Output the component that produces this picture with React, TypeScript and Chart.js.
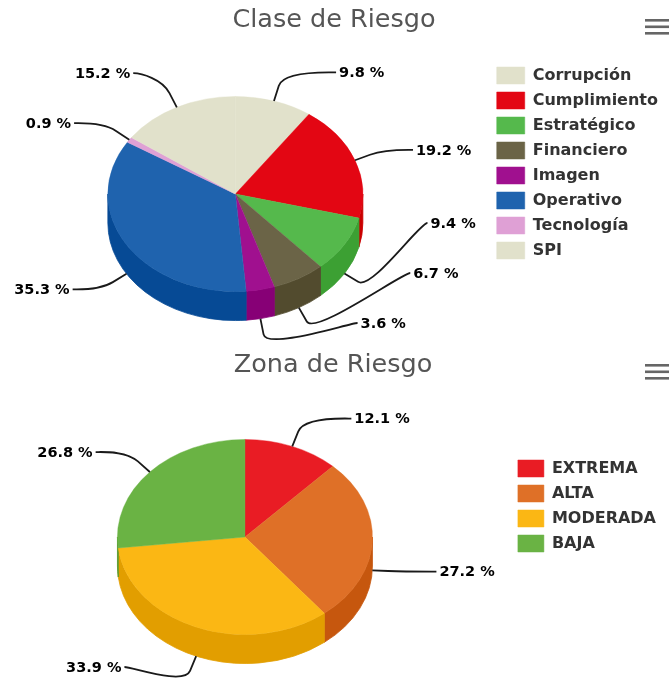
import React, { useEffect, useRef } from 'react';
import { Chart, ArcElement, PieController, Legend, Title } from 'chart.js';

Chart.register(ArcElement, PieController, Legend, Title);

// ---------- data ----------
const claseTitle = 'Clase de Riesgo';
const claseLabels = ['Corrupción', 'Cumplimiento', 'Estratégico', 'Financiero', 'Imagen', 'Operativo', 'Tecnología', 'SPI'];
const claseValues = [9.8, 19.2, 9.4, 6.7, 3.6, 35.3, 0.9, 15.2];
const claseColors = ['#e1e1cb', '#e30613', '#55b94c', '#6b6447', '#a0108f', '#1f63ae', '#dfa0d5', '#e1e1cb'];

const zonaTitle = 'Zona de Riesgo';
const zonaLabels = ['EXTREMA', 'ALTA', 'MODERADA', 'BAJA'];
const zonaValues = [12.1, 27.2, 33.9, 26.8];
const zonaColors = ['#e91c24', '#df7027', '#fbb714', '#6ab344'];

// ---------- helpers ----------
function darken(hex: string, amt = 25): string {
  const n = parseInt(hex.slice(1), 16);
  const r = Math.max(0, ((n >> 16) & 255) - amt);
  const g = Math.max(0, ((n >> 8) & 255) - amt);
  const b = Math.max(0, (n & 255) - amt);
  return `rgb(${r},${g},${b})`;
}

const pie3d = {
  id: 'pie3d',
  beforeDatasetsDraw(chart: any, _args: any, opts: any) {
    const meta = chart.getDatasetMeta(0);
    const arcs = meta.data;
    if (!arcs.length) return;
    const cx0 = arcs[0].x;
    const cy = arcs[0].y;
    const cx = cx0 + opts.shiftX;
    const r = arcs[0].outerRadius;
    const k = opts.tilt;
    const D = opts.depth;
    const colors = chart.data.datasets[0].backgroundColor;
    const ctx = chart.ctx;
    ctx.save();
    arcs.forEach((arc: any, i: number) => {
      const s = arc.startAngle;
      const e = arc.endAngle;
      for (const base of [0, 2 * Math.PI]) {
        const a = Math.max(s, base);
        const b = Math.min(e, base + Math.PI);
        if (b > a) {
          const col = darken(colors[i]);
          ctx.beginPath();
          ctx.ellipse(cx, cy, r, r * k, 0, a, b, false);
          ctx.ellipse(cx, cy + D, r, r * k, 0, b, a, true);
          ctx.closePath();
          ctx.fillStyle = col;
          ctx.strokeStyle = col;
          ctx.lineWidth = 0.8;
          ctx.fill();
          ctx.stroke();
        }
      }
    });
    ctx.translate(cx, cy);
    ctx.scale(1, k);
    ctx.translate(-cx0, -cy);
  },
  afterDatasetsDraw(chart: any, _args: any, opts: any) {
    const ctx = chart.ctx;
    ctx.restore();
    const meta = chart.getDatasetMeta(0);
    const arcs = meta.data;
    if (!arcs.length) return;
    const values = chart.data.datasets[0].data;
    const cx = arcs[0].x + opts.shiftX;
    const cy = arcs[0].y;
    const r = arcs[0].outerRadius;
    const k = opts.tilt;
    const D = opts.depth;
    const dist = 30;
    const items = arcs.map((arc: any, i: number) => {
      const t = (arc.startAngle + arc.endAngle) / 2;
      const c = Math.cos(t);
      const s = Math.sin(t);
      const lx = cx + r * c;
      const ly = cy + k * r * s + (s > 0 ? D : 0);
      const ny = cy + (k * r + dist) * s + (s > 0 ? D : 0);
      return { i, c, s, lx, ly, ny, y: ny, right: c >= 0 };
    });
    const yMax = chart.chartArea.bottom - 3;
    const yMin = 12;
    for (const side of [true, false]) {
      const h = items.filter((p: any) => p.right === side).sort((a: any, b: any) => a.ny - b.ny);
      h.forEach((p: any) => { p.y = Math.min(yMax, Math.max(yMin, p.ny)); });
      for (let j = h.length - 2; j >= 0; j--) h[j].y = Math.min(h[j].y, h[j + 1].y - 50);
      for (let j = 1; j < h.length; j++) h[j].y = Math.max(h[j].y, h[j - 1].y + 20);
    }
    const ax = cx;
    const ay = cy + 20;
    const Rx = r + 63;
    const RyUp = r + 38;
    const RyDown = r + 13;
    ctx.save();
    ctx.font = 'bold 14.5px "DejaVu Sans"';
    ctx.textBaseline = 'middle';
    items.forEach((p: any) => {
      const q = (p.y - ay) / (p.y < ay ? RyUp : RyDown);
      const dx = Rx * Math.sqrt(Math.max(0, 1 - q * q));
      const sg = p.right ? 1 : -1;
      const X = ax + sg * dx;
      const bx = p.lx + 16 * p.c;
      const by = p.ly + 16 * p.s;
      ctx.beginPath();
      ctx.moveTo(X + sg * 2, p.y);
      ctx.bezierCurveTo(X - sg * 6, p.y, 2 * bx - p.lx, 2 * by - p.ly, bx, by);
      ctx.lineTo(p.lx, p.ly);
      ctx.strokeStyle = '#1a1a1a';
      ctx.lineWidth = 1.8;
      ctx.stroke();
      ctx.fillStyle = '#000';
      ctx.textAlign = p.right ? 'left' : 'right';
      ctx.fillText(`${Number(values[p.i]).toFixed(1)} %`, X + sg * 5, p.y + 1);
    });
    ctx.restore();
  },
  afterDraw(chart: any, _args: any, opts: any) {
    const ctx = chart.ctx;
    ctx.save();
    ctx.fillStyle = '#666';
    for (let i = 0; i < 3; i++) {
      ctx.fillRect(645, opts.menuY + i * 6.5, 24, 2.6);
    }
    ctx.restore();
  },
};

function makeConfig(title: string, labels: string[], values: number[], colors: string[], o: any) {
  return {
    type: 'pie',
    data: {
      labels,
      datasets: [{
        data: values,
        backgroundColor: colors,
        borderColor: colors,
        borderWidth: 0.5,
        clip: false,
      }],
    },
    options: {
      responsive: false,
      animation: false,
      devicePixelRatio: 1,
      radius: 127.5,
      layout: { padding: { left: 0, right: o.padR, top: 0, bottom: o.padB } },
      plugins: {
        tooltip: { enabled: false },
        title: {
          display: true,
          text: title,
          color: '#555',
          font: { family: 'DejaVu Sans', size: 25.5, weight: 'normal', lineHeight: 1.2 },
          padding: { top: o.titleTop, bottom: o.titleBottom },
        },
        legend: {
          position: 'right',
          align: 'center',
          labels: {
            boxWidth: o.boxW,
            boxHeight: 17,
            padding: 8,
            color: '#333',
            font: { family: 'DejaVu Sans', size: 16, weight: 'bold' },
          },
        },
        pie3d: { shiftX: o.shiftX, tilt: 0.765, depth: 29, menuY: o.menuY },
      },
    },
    plugins: [pie3d],
  };
}

export default function App() {
  const ref1 = useRef<HTMLCanvasElement>(null);
  const ref2 = useRef<HTMLCanvasElement>(null);
  useEffect(() => {
    const c1 = new Chart(ref1.current as HTMLCanvasElement, makeConfig(claseTitle, claseLabels, claseValues, claseColors, {
      padR: 4, padB: 16, titleTop: 4.7, titleBottom: 26.7, boxW: 28, shiftX: -9, menuY: 19,
    }) as any);
    const c2 = new Chart(ref2.current as HTMLCanvasElement, makeConfig(zonaTitle, zonaLabels, zonaValues, zonaColors, {
      padR: 6, padB: 10, titleTop: 7.7, titleBottom: 23.7, boxW: 26, shiftX: -10, menuY: 22,
    }) as any);
    return () => { c1.destroy(); c2.destroy(); };
  }, []);
  return (
    <div style={{ position: 'absolute', left: 0, top: 0, width: 672, height: 680, overflow: 'hidden', background: '#fff' }}>
      <canvas ref={ref1} width={672} height={342} style={{ display: 'block' }} />
      <canvas ref={ref2} width={672} height={338} style={{ display: 'block' }} />
    </div>
  );
}
